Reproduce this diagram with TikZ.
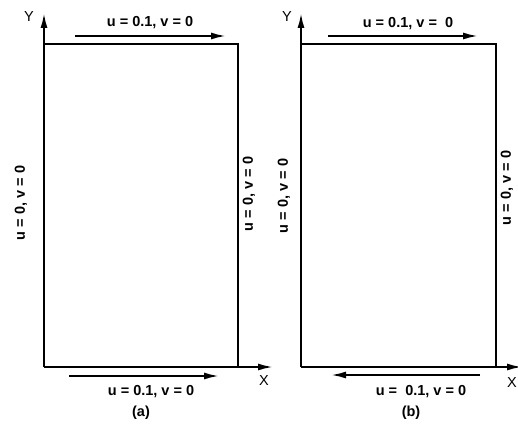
\documentclass[tikz,border=0pt]{standalone}
\usepackage{fontspec}
\setmainfont{Liberation Sans}
\usetikzlibrary{arrows.meta}
\begin{document}
\begin{tikzpicture}[x=1pt,y=-1pt,
  lbl/.style={font=\fontsize{14.5}{16}\selectfont\bfseries, inner sep=0pt},
  axlbl/.style={font=\fontsize{14.5}{16}\selectfont, inner sep=0pt},
  wall/.style={line width=2pt},
  arr/.style={line width=2pt, -{Latex[length=15pt,width=7pt]}}]
\useasboundingbox[fill=white] (0,0) rectangle (518,425);
% ---- panel (a)
\coordinate (a0) at (44,367);
\coordinate (a1) at (238,367);
\coordinate (a2) at (238,44);
\coordinate (a3) at (44,44);
\coordinate (aY) at (44,13);
\coordinate (aX) at (273,367);
\draw[wall] (a1) -- (a2) -- (a3);
\draw[arr] (a0) -- (aY);
\draw[arr] (a0) -- (aX);
\node[axlbl] (aYl) at (29,17) {Y};
\node[axlbl] (aXl) at (264,381) {X};
\coordinate (at1) at (75,36);
\coordinate (at2) at (226,36);
\draw[arr] (at1) -- (at2);
\node[lbl] (atl) at (150,23) {u = 0.1, v = 0};
\coordinate (ab1) at (69,376);
\coordinate (ab2) at (219,376);
\draw[arr] (ab1) -- (ab2);
\node[lbl] (abl) at (151,392) {u = 0.1, v = 0};
\node[lbl,rotate=90] (all) at (21,203) {u = 0, v = 0};
\node[lbl,rotate=90] (arl) at (249,194) {u = 0, v = 0};
\node[lbl] (acap) at (141,413) {(a)};
% ---- panel (b)
\coordinate (b0) at (301,367);
\coordinate (b1) at (496,367);
\coordinate (b2) at (496,44);
\coordinate (b3) at (301,44);
\coordinate (bY) at (301,13);
\coordinate (bX) at (522,367);
\draw[wall] (b1) -- (b2) -- (b3);
\draw[arr] (b0) -- (bY);
\draw[arr] (b0) -- (bX);
\node[axlbl] (bYl) at (287,17) {Y};
\node[axlbl] (bXl) at (512,383) {X};
\coordinate (bt1) at (328,36);
\coordinate (bt2) at (478,36);
\draw[arr] (bt1) -- (bt2);
\node[lbl] (btl) at (408,24) {u = 0.1, v =\ \ 0};
\coordinate (bb1) at (480,375);
\coordinate (bb2) at (331,375);
\draw[arr] (bb1) -- (bb2);
\node[lbl] (bbl) at (421,392) {u =\ \ 0.1, v = 0};
\node[lbl,rotate=90] (bll) at (284,196) {u = 0, v = 0};
\node[lbl,rotate=90] (brl) at (507,188) {u = 0, v = 0};
\node[lbl] (bcap) at (411,413) {(b)};
\end{tikzpicture}
\end{document}
